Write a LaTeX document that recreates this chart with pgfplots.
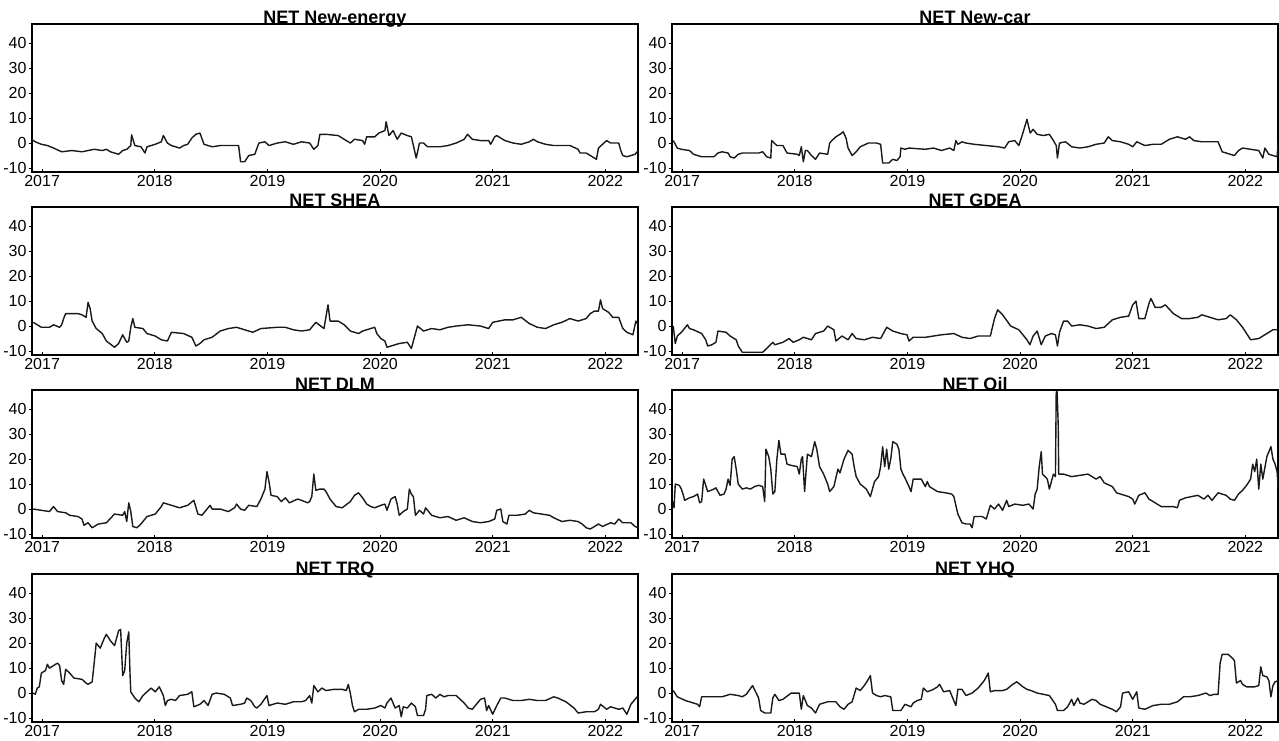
\documentclass[border=0pt]{standalone}
\usepackage{fontspec}
\setmainfont{Liberation Sans}
\usepackage{pgfplots}
\pgfplotsset{compat=1.18}
\pgfplotsset{netpanel/.style={
  scale only axis, width=303pt, height=74pt,
  xmin=2016.91, xmax=2022.29, ymin=-11.6, ymax=47.7,
  xtick={2017,2018,2019,2020,2021,2022},
  xticklabels={2017,2018,2019,2020,2021,2022},
  ytick={-10,0,10,20,30,40},
  yticklabels={-10,0,10,20,30,40},
  xtick pos=left, ytick pos=left,
  xtick align=inside, ytick align=outside,
  major tick length=1.6pt,
  tick style={black, line width=0.5pt},
  axis line style={black, line width=0.9pt},
  ticklabel style={font=\fontsize{8}{9}\selectfont},
  xticklabel style={inner sep=1pt, yshift=-0.3pt},
  yticklabel style={inner sep=1pt},
  every axis title shift=0pt,
  title style={at={(0.5,1)}, anchor=base, inner sep=0pt, yshift=0pt,
    font=\bfseries\fontsize{9}{10}\selectfont},
  clip=true,
}}
\tikzset{netline/.style={black!90, line width=0.7pt, line join=round, no markers}}
\begin{document}
\begin{tikzpicture}
\path[use as bounding box] (0,0) rectangle (639.5pt,370pt);

% Row 1 left: New-energy
\begin{axis}[netpanel, at={(16pt,284pt)}, anchor=south west, title={NET New-energy}]
\addplot[netline] coordinates {
(2016.906,1.5) (2016.939,0.5) (2016.993,-0.5) (2017.047,-1) (2017.101,-2) (2017.173,-3.5) (2017.264,-3) (2017.354,-3.5) (2017.462,-2.5) (2017.534,-3) (2017.570,-2.5) (2017.606,-3.5) (2017.679,-4.5) (2017.715,-3) (2017.751,-2.5) (2017.787,-1) (2017.794,3.3) (2017.823,-1) (2017.877,-1.5) (2017.913,-4) (2017.931,-1.5) (2018.004,-0.5) (2018.058,0.5) (2018.076,3) (2018.112,0) (2018.148,-1) (2018.184,-1.5) (2018.220,-2) (2018.256,-1) (2018.292,-0.5) (2018.329,2) (2018.365,3.5) (2018.401,4) (2018.437,-0.5) (2018.509,-1.5) (2018.581,-1) (2018.744,-1) (2018.762,-7.5) (2018.798,-7.5) (2018.834,-5) (2018.888,-4.5) (2018.924,0) (2018.978,0.5) (2019.014,-1) (2019.087,0) (2019.159,0.5) (2019.231,-0.5) (2019.303,0.5) (2019.375,0) (2019.412,-2.5) (2019.448,-1) (2019.466,3.5) (2019.520,3.5) (2019.628,3) (2019.700,1) (2019.736,0) (2019.773,1.5) (2019.845,1) (2019.863,-0.5) (2019.881,2.5) (2019.953,2.5) (2019.989,4) (2020.043,5) (2020.054,8.5) (2020.079,3) (2020.116,5) (2020.152,1.5) (2020.188,4) (2020.242,3) (2020.278,2.5) (2020.296,-1) (2020.321,-6) (2020.350,0) (2020.386,0) (2020.422,-1.5) (2020.531,-1.5) (2020.603,-1) (2020.675,0) (2020.747,1.5) (2020.776,3.5) (2020.819,1.5) (2020.892,1) (2020.964,1) (2020.982,-0.5) (2021.018,2.5) (2021.036,3) (2021.108,1) (2021.181,0) (2021.253,-0.5) (2021.325,0.5) (2021.361,1.5) (2021.397,0.5) (2021.469,-0.5) (2021.542,-1) (2021.686,-1) (2021.758,-2.5) (2021.776,-4) (2021.830,-4) (2021.866,-5) (2021.903,-6) (2021.921,-6.5) (2021.939,-2) (2021.975,-0.5) (2022.011,1) (2022.047,0) (2022.119,0) (2022.137,-3) (2022.155,-5) (2022.191,-5.5) (2022.227,-5) (2022.264,-4.5) (2022.292,-3)
};
\end{axis}

% Row 1 right: New-car
\begin{axis}[netpanel, at={(336pt,284pt)}, anchor=south west, title={NET New-car}]
\addplot[netline] coordinates {
(2016.921,1) (2016.957,-2) (2016.993,-2.5) (2017.065,-3) (2017.101,-4.5) (2017.173,-5.5) (2017.282,-5.5) (2017.318,-4) (2017.354,-3.5) (2017.408,-4) (2017.426,-5.5) (2017.462,-6) (2017.498,-4.5) (2017.534,-4) (2017.679,-4) (2017.715,-3.5) (2017.751,-5.5) (2017.787,-6) (2017.794,1) (2017.841,-1) (2017.895,-1) (2017.931,-4) (2018.022,-4.5) (2018.040,-5) (2018.058,-1.5) (2018.076,-7.5) (2018.094,-3) (2018.112,-3) (2018.148,-5) (2018.184,-6.5) (2018.220,-4) (2018.292,-4.5) (2018.310,0) (2018.329,1) (2018.365,2.5) (2018.401,3.5) (2018.430,4.5) (2018.455,2) (2018.473,-2) (2018.509,-5) (2018.545,-3.5) (2018.581,-1.5) (2018.653,0) (2018.726,0) (2018.762,-0.5) (2018.780,-8) (2018.834,-8) (2018.870,-6.5) (2018.906,-7) (2018.935,-5.5) (2018.942,-2) (2018.978,-2.5) (2019.014,-2) (2019.159,-2.5) (2019.231,-2) (2019.303,-3) (2019.375,-2) (2019.412,-3) (2019.430,1) (2019.448,-0.5) (2019.484,0.5) (2019.520,0) (2019.592,-0.5) (2019.700,-1) (2019.809,-1.5) (2019.863,-2) (2019.899,0.5) (2019.953,1) (2019.989,-1) (2020.025,4) (2020.061,9.5) (2020.090,4) (2020.116,5.5) (2020.152,3.5) (2020.206,3) (2020.260,3.5) (2020.296,1) (2020.321,-1) (2020.332,-6) (2020.350,0) (2020.404,0.5) (2020.458,-1.5) (2020.531,-2) (2020.603,-1.5) (2020.675,-0.5) (2020.747,0) (2020.783,2.5) (2020.819,1) (2020.892,0.5) (2020.964,-0.5) (2021.000,-1.5) (2021.036,0.5) (2021.108,-1) (2021.181,-0.5) (2021.253,-0.5) (2021.325,1.5) (2021.397,2.5) (2021.469,1.5) (2021.505,2.5) (2021.542,1) (2021.614,0.5) (2021.758,0.5) (2021.794,-3.5) (2021.866,-4.5) (2021.903,-5) (2021.939,-3) (2021.975,-2) (2022.047,-2.5) (2022.119,-3) (2022.155,-6) (2022.173,-2) (2022.209,-4.5) (2022.245,-5) (2022.282,-5.5) (2022.292,0.5)
};
\end{axis}

% Row 2 left: SHEA
\begin{axis}[netpanel, at={(16pt,192.5pt)}, anchor=south west, title={NET SHEA}]
\addplot[netline] coordinates {
(2016.921,1.5) (2016.957,0.5) (2016.993,-0.5) (2017.065,-0.5) (2017.101,0.5) (2017.155,-0.5) (2017.173,0.5) (2017.191,3) (2017.209,5) (2017.318,5) (2017.354,4.5) (2017.372,4) (2017.390,3.5) (2017.408,9.5) (2017.426,7) (2017.444,2) (2017.480,-1) (2017.534,-3) (2017.570,-6) (2017.643,-8.5) (2017.679,-7) (2017.715,-3.5) (2017.751,-6.5) (2017.769,-6) (2017.787,-0.5) (2017.805,3) (2017.823,-0.5) (2017.895,-1) (2017.931,-3) (2018.004,-4) (2018.058,-5.5) (2018.112,-6) (2018.148,-2.5) (2018.256,-3) (2018.329,-4.5) (2018.365,-8) (2018.401,-7) (2018.437,-5.5) (2018.509,-4.5) (2018.581,-2) (2018.653,-1) (2018.726,-0.5) (2018.798,-1.5) (2018.870,-2.5) (2018.942,-1) (2019.087,-0.5) (2019.159,-0.5) (2019.231,-1.5) (2019.303,-2) (2019.375,-1.5) (2019.430,1.5) (2019.502,-1) (2019.538,8.5) (2019.556,2) (2019.628,2) (2019.682,0.5) (2019.736,-2) (2019.809,-3) (2019.845,-2) (2019.917,-1) (2019.953,-0.5) (2019.971,-3) (2020.007,-5) (2020.043,-6) (2020.061,-8.5) (2020.097,-8) (2020.170,-7) (2020.242,-6.5) (2020.278,-9) (2020.332,0) (2020.386,-2) (2020.458,-1) (2020.531,-1.5) (2020.603,-0.5) (2020.675,0) (2020.783,0.5) (2020.892,0) (2020.964,-1) (2021.000,1.5) (2021.108,2.5) (2021.181,2.5) (2021.253,3.5) (2021.325,1) (2021.397,-0.5) (2021.469,-1) (2021.542,0.5) (2021.614,1.5) (2021.686,3) (2021.758,2) (2021.830,3) (2021.866,5) (2021.903,6) (2021.939,6) (2021.957,10.5) (2021.975,7) (2022.029,5.5) (2022.065,3.5) (2022.119,3.5) (2022.155,-1) (2022.191,-2.5) (2022.245,-3.5) (2022.271,2) (2022.292,0.5)
};
\end{axis}

% Row 2 right: GDEA
\begin{axis}[netpanel, at={(336pt,192.5pt)}, anchor=south west, title={NET GDEA}]
\addplot[netline] coordinates {
(2016.921,0) (2016.939,-7) (2016.957,-4) (2016.993,-2.5) (2017.047,0.5) (2017.065,-1) (2017.101,-1.5) (2017.173,-3) (2017.209,-5.5) (2017.227,-8) (2017.264,-7.5) (2017.300,-6.5) (2017.318,-2) (2017.390,-2.5) (2017.426,-4) (2017.480,-5.5) (2017.498,-8) (2017.534,-10.5) (2017.715,-10.5) (2017.751,-9) (2017.805,-6.5) (2017.823,-7.5) (2017.895,-6.5) (2017.949,-5) (2017.986,-6.5) (2018.040,-5.5) (2018.076,-4.5) (2018.148,-5.5) (2018.184,-3) (2018.256,-2) (2018.292,0) (2018.347,-1.5) (2018.365,-6) (2018.419,-4) (2018.473,-5.5) (2018.509,-3) (2018.545,-5) (2018.617,-5.5) (2018.690,-4.5) (2018.762,-5) (2018.816,-0.5) (2018.870,-2) (2018.942,-3) (2018.996,-3.5) (2019.014,-6) (2019.051,-4.5) (2019.159,-4.5) (2019.303,-3.5) (2019.412,-3) (2019.484,-4.5) (2019.556,-5) (2019.628,-4) (2019.736,-4) (2019.773,3) (2019.801,6.5) (2019.845,4.5) (2019.917,0) (2019.989,-1.5) (2020.061,-5.5) (2020.087,-7.5) (2020.116,-4) (2020.152,-2) (2020.188,-7.5) (2020.224,-4) (2020.278,-3) (2020.314,-3.5) (2020.332,-8) (2020.350,-2.5) (2020.386,2) (2020.422,2) (2020.458,0) (2020.531,0.5) (2020.603,0) (2020.675,-1) (2020.747,-0.5) (2020.819,2.5) (2020.892,3.5) (2020.964,4) (2021.000,8.5) (2021.029,10) (2021.054,3) (2021.108,3) (2021.144,9) (2021.162,11) (2021.199,7.5) (2021.253,7.5) (2021.289,8.5) (2021.361,5) (2021.433,3) (2021.505,3) (2021.578,3.5) (2021.614,4.5) (2021.686,3.5) (2021.758,2.5) (2021.830,3) (2021.866,4.5) (2021.921,2.5) (2021.975,-0.5) (2022.011,-3) (2022.047,-5.5) (2022.119,-5) (2022.191,-3) (2022.245,-1.5) (2022.292,-1.5)
};
\end{axis}

% Row 3 left: DLM
\begin{axis}[netpanel, at={(16pt,101pt)}, anchor=south west, title={NET DLM}]
\addplot[netline] coordinates {
(2016.921,0) (2016.993,-0.5) (2017.065,-1) (2017.101,1) (2017.137,-1) (2017.209,-1.5) (2017.245,-2.5) (2017.318,-3) (2017.354,-4) (2017.372,-6.5) (2017.408,-5.5) (2017.444,-7.5) (2017.498,-6) (2017.570,-5.5) (2017.643,-2) (2017.715,-2.5) (2017.733,-1) (2017.751,-5) (2017.769,2.5) (2017.787,-1) (2017.805,-7) (2017.841,-7.5) (2017.877,-6) (2017.931,-3) (2018.004,-2) (2018.058,1) (2018.076,2.5) (2018.148,1.5) (2018.220,0.5) (2018.292,1.5) (2018.347,3.5) (2018.383,-2) (2018.419,-2.5) (2018.473,0.5) (2018.491,1.5) (2018.509,0) (2018.581,0) (2018.653,-1) (2018.708,0.5) (2018.726,2) (2018.762,0) (2018.798,-0.5) (2018.834,1.5) (2018.906,1) (2018.942,4) (2018.978,8) (2018.996,15) (2019.014,11) (2019.032,5.5) (2019.087,5) (2019.123,3) (2019.159,4.5) (2019.195,2.5) (2019.267,4) (2019.303,3.5) (2019.357,2.5) (2019.375,3) (2019.394,5) (2019.412,14) (2019.430,7.5) (2019.466,8) (2019.502,8) (2019.520,7) (2019.556,4) (2019.610,1) (2019.664,0.5) (2019.736,3) (2019.773,5.5) (2019.809,6.5) (2019.845,4.5) (2019.881,2) (2019.917,1) (2019.953,0.5) (2020.007,1.5) (2020.043,2) (2020.061,-0.5) (2020.097,4) (2020.134,5) (2020.152,2) (2020.170,-2.5) (2020.206,-1) (2020.242,0) (2020.260,8) (2020.278,6) (2020.296,5) (2020.314,-2.5) (2020.350,-0.5) (2020.386,-2) (2020.404,0.5) (2020.458,-2.5) (2020.531,-3.5) (2020.603,-3) (2020.675,-4.5) (2020.747,-3.5) (2020.819,-5) (2020.892,-5.5) (2020.964,-5) (2021.018,-4) (2021.036,-0.5) (2021.072,0) (2021.090,-5) (2021.126,-6) (2021.144,-2.5) (2021.217,-2.5) (2021.289,-2) (2021.325,-0.5) (2021.361,-1.5) (2021.433,-2) (2021.505,-2.5) (2021.542,-3.5) (2021.614,-5) (2021.686,-4.5) (2021.758,-5) (2021.794,-6) (2021.830,-7.5) (2021.866,-8) (2021.903,-7) (2021.939,-6) (2021.975,-7) (2022.047,-5.5) (2022.083,-6) (2022.119,-4) (2022.155,-5.5) (2022.227,-5.5) (2022.264,-7) (2022.292,-7.5)
};
\end{axis}

% Row 3 right: Oil
\begin{axis}[netpanel, at={(336pt,101pt)}, anchor=south west, title={NET Oil}]
\addplot[netline] coordinates {
(2016.921,3) (2016.928,0.5) (2016.939,10) (2016.975,9.5) (2016.993,8) (2017.011,5.5) (2017.022,3.5) (2017.065,4.5) (2017.101,5) (2017.137,6) (2017.155,2.5) (2017.173,3) (2017.191,12) (2017.227,7) (2017.282,8) (2017.300,8.5) (2017.336,5.5) (2017.372,6) (2017.390,8) (2017.408,12) (2017.426,9.5) (2017.444,20) (2017.462,21) (2017.480,16) (2017.498,10) (2017.534,8) (2017.570,8.5) (2017.606,8) (2017.643,9) (2017.679,9.5) (2017.715,9) (2017.733,3) (2017.744,24) (2017.769,21) (2017.787,16) (2017.805,6) (2017.823,7) (2017.841,20) (2017.859,27.5) (2017.877,22) (2017.913,22) (2017.931,18) (2017.968,17.5) (2018.022,17) (2018.040,14) (2018.058,20) (2018.069,21) (2018.087,7) (2018.112,22) (2018.148,21) (2018.177,27) (2018.195,24) (2018.220,17) (2018.256,14) (2018.292,10) (2018.310,7) (2018.347,9) (2018.383,16) (2018.401,14.5) (2018.437,20) (2018.473,23.5) (2018.509,22) (2018.527,17) (2018.545,13) (2018.581,10) (2018.635,8) (2018.671,5) (2018.708,11) (2018.744,13) (2018.762,17) (2018.780,25) (2018.798,17) (2018.816,24) (2018.834,16) (2018.852,20) (2018.870,27) (2018.906,26) (2018.924,24) (2018.942,16) (2018.960,14) (2018.978,12.5) (2019.014,9) (2019.032,7) (2019.051,12) (2019.123,12) (2019.159,9) (2019.177,11) (2019.195,9) (2019.267,7) (2019.339,6.5) (2019.394,6) (2019.412,5) (2019.448,-2) (2019.484,-5.5) (2019.520,-6) (2019.556,-6) (2019.574,-7.5) (2019.592,-3) (2019.664,-3) (2019.700,-4) (2019.736,1.5) (2019.773,0) (2019.809,2) (2019.845,-0.5) (2019.881,3.5) (2019.899,1) (2019.953,2) (2020.025,1.5) (2020.079,2) (2020.116,0) (2020.134,6) (2020.152,8) (2020.170,17) (2020.188,23) (2020.199,14) (2020.242,12) (2020.260,8) (2020.296,14) (2020.314,13) (2020.321,47) (2020.329,47) (2020.339,33) (2020.343,14) (2020.386,14) (2020.458,13) (2020.531,13.5) (2020.603,14) (2020.675,12) (2020.711,13) (2020.747,10.5) (2020.819,9) (2020.856,6.5) (2020.892,6) (2020.964,5) (2021.000,4) (2021.018,2) (2021.054,5.5) (2021.108,6.5) (2021.144,4) (2021.181,3) (2021.217,2) (2021.253,1) (2021.361,1) (2021.397,0.5) (2021.415,3.5) (2021.469,4.5) (2021.578,5.5) (2021.632,4) (2021.668,5.5) (2021.704,3.5) (2021.758,6.5) (2021.830,5.5) (2021.866,4) (2021.903,3.5) (2021.939,6) (2021.975,7.5) (2022.011,9.5) (2022.047,12) (2022.065,18) (2022.083,15) (2022.101,20) (2022.119,8) (2022.137,18) (2022.155,12) (2022.191,21) (2022.227,25) (2022.245,20) (2022.264,18) (2022.282,15) (2022.292,8)
};
\end{axis}

% Row 4 left: TRQ
\begin{axis}[netpanel, at={(16pt,9pt)}, anchor=south west, title={NET TRQ}]
\addplot[netline] coordinates {
(2016.921,0) (2016.939,-0.5) (2016.957,2) (2016.975,2.5) (2016.993,8) (2017.029,9) (2017.047,11.5) (2017.065,10) (2017.101,11) (2017.137,12) (2017.155,11) (2017.173,5) (2017.191,3.5) (2017.209,9.5) (2017.245,8) (2017.282,6) (2017.354,5.5) (2017.390,4) (2017.408,3.5) (2017.444,4.5) (2017.462,12) (2017.480,20) (2017.516,18) (2017.552,22) (2017.570,23.5) (2017.606,21) (2017.643,19) (2017.679,25) (2017.697,25.5) (2017.715,7) (2017.733,9) (2017.751,20) (2017.769,24.5) (2017.780,8) (2017.787,0.5) (2017.823,-2) (2017.859,-3.5) (2017.895,-1) (2017.931,0.5) (2017.968,2) (2018.004,0.5) (2018.040,2.5) (2018.076,-1) (2018.094,-5) (2018.112,-3) (2018.148,-2.5) (2018.184,-3) (2018.220,-1) (2018.292,-0.5) (2018.329,0.5) (2018.347,-5.5) (2018.401,-4.5) (2018.437,-3) (2018.473,-5) (2018.509,-0.5) (2018.545,0) (2018.617,-0.5) (2018.671,-2) (2018.690,-5) (2018.762,-4.5) (2018.798,-4) (2018.816,-2) (2018.852,-3) (2018.888,-5.5) (2018.906,-6) (2018.942,-4.5) (2018.996,-1) (2019.014,-5) (2019.087,-4) (2019.159,-4.5) (2019.231,-3.5) (2019.303,-3.5) (2019.339,-3) (2019.375,-1) (2019.394,-4) (2019.412,3) (2019.448,0.5) (2019.484,2) (2019.520,1) (2019.592,1.5) (2019.664,1.5) (2019.700,1) (2019.718,3.5) (2019.736,0) (2019.755,-5) (2019.773,-7.5) (2019.809,-6.5) (2019.881,-6.5) (2019.953,-6) (2020.007,-5) (2020.043,-6) (2020.061,-4) (2020.097,-2) (2020.134,-6) (2020.170,-5) (2020.188,-9.5) (2020.206,-5.5) (2020.242,-6) (2020.278,-4) (2020.314,-5.5) (2020.332,-9) (2020.386,-9) (2020.404,-6.5) (2020.415,-1) (2020.458,-0.5) (2020.495,-2) (2020.531,-0.5) (2020.567,-1.5) (2020.603,-1) (2020.675,-1) (2020.747,-4) (2020.783,-6) (2020.819,-6.5) (2020.892,-2.5) (2020.928,-2) (2020.946,-7) (2020.964,-5) (2021.000,-8.5) (2021.036,-5) (2021.072,-2) (2021.108,-2) (2021.181,-3) (2021.253,-3) (2021.325,-2.5) (2021.397,-3) (2021.469,-3) (2021.542,-1.5) (2021.578,-2) (2021.650,-3.5) (2021.722,-6) (2021.758,-8) (2021.830,-7.5) (2021.903,-7.5) (2021.939,-6.5) (2021.957,-4.5) (2022.011,-6.5) (2022.047,-5.5) (2022.119,-6.5) (2022.155,-6) (2022.191,-8.5) (2022.227,-4.5) (2022.264,-2.5) (2022.292,-1)
};
\end{axis}

% Row 4 right: YHQ
\begin{axis}[netpanel, at={(336pt,9pt)}, anchor=south west, title={NET YHQ}]
\addplot[netline] coordinates {
(2016.921,1) (2016.957,-1.5) (2017.029,-3) (2017.101,-4) (2017.137,-4.5) (2017.155,-5.5) (2017.173,-1.5) (2017.245,-1.5) (2017.354,-1.5) (2017.426,-0.5) (2017.498,-1) (2017.534,-1.5) (2017.570,-0.5) (2017.625,3) (2017.679,-2) (2017.697,-7) (2017.733,-8) (2017.787,-8) (2017.805,-2) (2017.823,-0.5) (2017.859,-3) (2017.895,-2.5) (2017.968,0) (2018.040,0) (2018.058,-6.5) (2018.076,-1) (2018.112,-5) (2018.148,-6) (2018.184,-8) (2018.220,-4.5) (2018.292,-3.5) (2018.365,-3.5) (2018.401,-5.5) (2018.437,-6.5) (2018.473,-4.5) (2018.509,-3.5) (2018.545,2) (2018.581,1) (2018.617,3) (2018.653,5.5) (2018.671,7) (2018.690,0) (2018.726,-1) (2018.762,-1.5) (2018.798,-1) (2018.852,-1.5) (2018.870,-7) (2018.942,-7) (2018.978,-4.5) (2019.032,-5.5) (2019.051,-4) (2019.087,-3) (2019.123,-2.5) (2019.141,2) (2019.177,0.5) (2019.231,1.5) (2019.267,2.5) (2019.285,3.5) (2019.321,0.5) (2019.375,1) (2019.430,-5) (2019.448,1.5) (2019.484,1.5) (2019.520,-1) (2019.574,0) (2019.628,2) (2019.682,5) (2019.718,8) (2019.736,0.5) (2019.773,1) (2019.845,1) (2019.881,1.5) (2019.935,3.5) (2019.971,4.5) (2020.025,2.5) (2020.061,1.5) (2020.097,1) (2020.152,0) (2020.206,-0.5) (2020.260,-1) (2020.314,-4.5) (2020.332,-7) (2020.386,-7) (2020.422,-5.5) (2020.458,-2.5) (2020.477,-5) (2020.513,-2) (2020.531,-4) (2020.567,-4.5) (2020.603,-3.5) (2020.639,-2.5) (2020.675,-3) (2020.711,-4.5) (2020.765,-5.5) (2020.819,-6.5) (2020.856,-7.5) (2020.892,-5.5) (2020.910,0) (2020.964,0.5) (2021.000,-2.5) (2021.036,0.5) (2021.054,-6) (2021.108,-6.5) (2021.181,-5) (2021.253,-4.5) (2021.325,-4.5) (2021.397,-3.5) (2021.451,-1.5) (2021.505,-1.5) (2021.578,-1) (2021.650,0) (2021.686,-1) (2021.722,-0.5) (2021.758,-0.5) (2021.776,12) (2021.794,15.5) (2021.848,15.5) (2021.884,14) (2021.903,13) (2021.921,4) (2021.957,5) (2021.975,3.5) (2022.011,2.5) (2022.083,2.5) (2022.119,3) (2022.137,10.5) (2022.155,7) (2022.191,6.5) (2022.209,5) (2022.227,-1.5) (2022.245,3) (2022.264,4.5) (2022.292,5)
};
\end{axis}
\end{tikzpicture}
\end{document}
